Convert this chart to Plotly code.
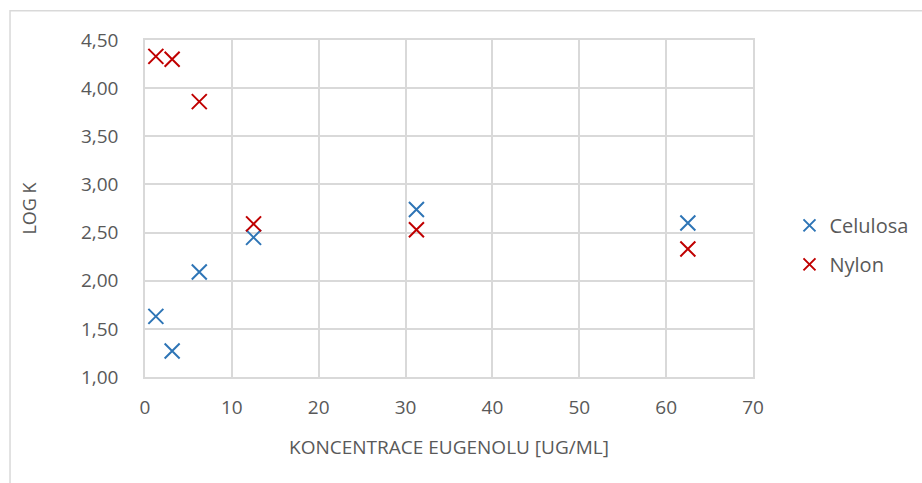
import plotly.graph_objects as go

# Eugenol concentration [ug/ml] and log K values for each membrane type
concentrace = [1.25, 3.125, 6.25, 12.5, 31.25, 62.5]
celulosa = [1.63, 1.27, 2.09, 2.45, 2.74, 2.60]
nylon = [4.33, 4.30, 3.86, 2.59, 2.53, 2.33]

font_family = "Open Sans, Liberation Sans, sans-serif"
text_color = "#595959"
grid_color = "#d9d9d9"

fig = go.Figure()
fig.add_trace(go.Scatter(
    x=concentrace, y=celulosa, mode="markers", name="Celulosa",
    legendgroup="c",
    marker=dict(symbol="x-thin", size=15, line=dict(width=2, color="#2E75B6")),
))
fig.add_trace(go.Scatter(
    x=concentrace, y=nylon, mode="markers", name="Nylon",
    legendgroup="n",
    marker=dict(symbol="x-thin", size=15, line=dict(width=2, color="#C00000")),
))

fig.update_layout(
    width=922, height=483,
    margin=dict(l=145, r=169, t=40, b=106, autoexpand=False),
    paper_bgcolor="white", plot_bgcolor="white",
    separators=", ",
    font=dict(family=font_family, size=19, color=text_color),
    showlegend=True,
    legend=dict(
        x=1.06, y=0.392, xanchor="left", yanchor="middle",
        font=dict(size=20, color=text_color),
        itemsizing="constant", tracegroupgap=10,
    ),
    xaxis=dict(
        range=[0, 70], dtick=10, tick0=0,
        showgrid=True, gridcolor=grid_color, gridwidth=1.5,
        showline=True, linecolor=grid_color, linewidth=1.5, mirror=True,
        zeroline=False, ticks="",
        tickfont=dict(size=19, color=text_color),
        ticklabelstandoff=12,
        title=dict(text="KONCENTRACE EUGENOLU [UG/ML]", standoff=22,
                   font=dict(size=19, color=text_color)),
    ),
    yaxis=dict(
        range=[1, 4.5], dtick=0.5, tick0=1, tickformat=".2f",
        showgrid=True, gridcolor=grid_color, gridwidth=1.5,
        showline=True, linecolor=grid_color, linewidth=1.5, mirror=True,
        zeroline=False, ticks="",
        tickfont=dict(size=19, color=text_color),
        ticklabelstandoff=21,
        title=dict(text="LOG K", standoff=40,
                   font=dict(size=18, color=text_color)),
    ),
)

# Chart-area frame
fig.add_shape(
    type="rect", xref="paper", yref="paper",
    x0=-0.222, x1=1.35, y0=-0.45, y1=1.087,
    line=dict(color=grid_color, width=1.5), fillcolor="rgba(0,0,0,0)",
    layer="below",
)

fig.write_html("out.html")
